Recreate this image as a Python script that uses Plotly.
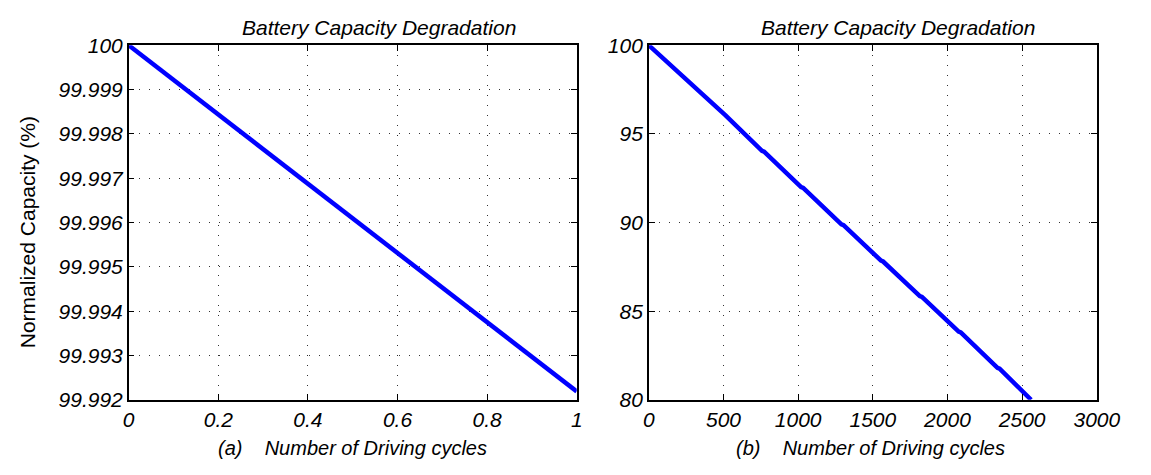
import plotly.graph_objects as go

# ---- data ----
cycles_a = [0, 1]
capacity_a = [100.0, 99.9921875]

cycles_b = [0, 245, 259, 500, 514, 758, 772, 1020, 1034, 1290, 1304,
            1555, 1569, 1815, 1829, 2075, 2089, 2335, 2349, 2560]
capacity_b = [100.0, 98.08, 98.03, 96.10, 96.05, 94.05, 94.00, 92.00, 91.95,
              89.90, 89.85, 87.85, 87.80, 85.85, 85.80, 83.85, 83.80, 81.80,
              81.75, 80.0]

xticks_a = [0, 0.2, 0.4, 0.6, 0.8, 1]
xticklabels_a = ["0", "0.2", "0.4", "0.6", "0.8", "1"]
yticks_a = [99.992, 99.993, 99.994, 99.995, 99.996, 99.997, 99.998, 99.999, 100]
yticklabels_a = ["99.992", "99.993", "99.994", "99.995", "99.996", "99.997",
                 "99.998", "99.999", "100"]
xticks_b = [0, 500, 1000, 1500, 2000, 2500, 3000]
yticks_b = [80, 85, 90, 95, 100]

title_text = "Battery Capacity Degradation"
xlabel_a = "(a)    Number of Driving cycles"
xlabel_b = "(b)    Number of Driving cycles"
ylabel = "Normalized Capacity (%)"

W, H = 1151, 475
FONT = "Liberation Sans, Arial, sans-serif"

fig = go.Figure()
fig.add_trace(go.Scatter(x=cycles_a, y=capacity_a, mode="lines",
                         line=dict(color="#0000FF", width=4.5),
                         xaxis="x", yaxis="y", showlegend=False))
fig.add_trace(go.Scatter(x=cycles_b, y=capacity_b, mode="lines",
                         line=dict(color="#0000FF", width=4.5),
                         xaxis="x2", yaxis="y2", showlegend=False))

ydom = [1 - 407.5 / H, 1 - 35 / H]
common = dict(
    showline=True, linecolor="black", linewidth=1.5, mirror="ticks",
    ticks="inside", ticklen=6, tickwidth=1, tickcolor="black",
    showgrid=True, gridcolor="#333333", gridwidth=1, griddash="1px,9px",
    zeroline=False,
    tickfont=dict(family=FONT, size=21, color="black", style="italic"),
)

fig.update_layout(
    width=W, height=H,
    margin=dict(l=0, r=0, t=0, b=0),
    paper_bgcolor="white", plot_bgcolor="white",
    xaxis=dict(domain=[126 / W, 586 / W], range=[0, 1], anchor="y",
               tickvals=xticks_a, ticktext=xticklabels_a, **common),
    yaxis=dict(domain=ydom, range=[99.992, 100], anchor="x",
               tickvals=yticks_a, ticktext=yticklabels_a, **common),
    xaxis2=dict(domain=[660 / W, 1120 / W], range=[0, 3000], anchor="y2",
                tickvals=xticks_b, **common),
    yaxis2=dict(domain=ydom, range=[80, 100], anchor="x2",
                tickvals=yticks_b, **common),
    annotations=[
        dict(text=title_text, x=383 / W, y=1 - 16 / H, xref="paper", yref="paper",
             showarrow=False, xanchor="center", yanchor="middle",
             font=dict(family=FONT, size=21, color="black", style="italic")),
        dict(text=title_text, x=916 / W, y=1 - 16 / H, xref="paper", yref="paper",
             showarrow=False, xanchor="center", yanchor="middle",
             font=dict(family=FONT, size=21, color="black", style="italic")),
        dict(text=xlabel_a, x=356 / W, y=1 - 458 / H, xref="paper", yref="paper",
             showarrow=False, xanchor="center", yanchor="middle",
             font=dict(family=FONT, size=20, color="black", style="italic")),
        dict(text=xlabel_b, x=888 / W, y=1 - 458 / H, xref="paper", yref="paper",
             showarrow=False, xanchor="center", yanchor="middle",
             font=dict(family=FONT, size=20, color="black", style="italic")),
        dict(text=ylabel, x=22 / W, y=1 - 231 / H, xref="paper", yref="paper",
             showarrow=False, xanchor="center", yanchor="middle", textangle=-90,
             font=dict(family=FONT, size=21, color="black")),
    ],
)

fig.write_html("out.html")
